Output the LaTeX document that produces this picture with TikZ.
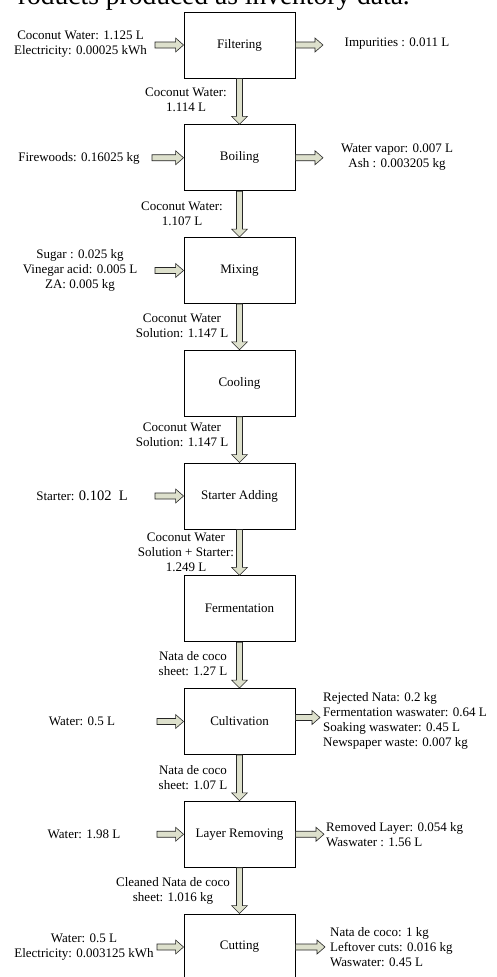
\documentclass[tikz,border=0pt]{standalone}
\usepackage{fontspec}
\setmainfont{Liberation Serif}
\usetikzlibrary{calc}
\definecolor{arrowfill}{HTML}{DDE0CC}
\tikzset{
  procbox/.style={draw=black, line width=0.9pt, minimum width=111pt, minimum height=66pt, inner sep=0pt, font=\fontsize{13}{15}\selectfont},
  lbl/.style={inner sep=0pt, align=center, font=\fontsize{13}{15}\selectfont},
  lbll/.style={inner sep=0pt, align=left, anchor=west, font=\fontsize{13}{15}\selectfont},
  blockarrow/.style={draw=black!85, fill=arrowfill, line width=0.6pt, line join=miter},
}
\newcommand\vflow[2]{\draw[blockarrow] ($(#1.south)+(-3,0)$) -- ($(#2.north)+(-3,-8)$) -- ($(#2.north)+(-8,-8)$) -- (#2.north) -- ($(#2.north)+(8,-8)$) -- ($(#2.north)+(3,-8)$) -- ($(#1.south)+(3,0)$) -- cycle;}
\newcommand\hflow[2]{\draw[blockarrow] ($(#1)+(0,-3)$) -- ($(#2)+(-8,-3)$) -- ($(#2)+(-8,-7)$) -- (#2) -- ($(#2)+(-8,7)$) -- ($(#2)+(-8,3)$) -- ($(#1)+(0,3)$) -- cycle;}
\begin{document}
\begin{tikzpicture}[x=1pt,y=-1pt]
\useasboundingbox[fill=white] (0,0) rectangle (497,977);
\node[anchor=base east, inner sep=0pt, font=\fontsize{27.5}{27.5}\selectfont] (title) at (410,5) {roducts produced as inventory data.};
% process boxes
\node[procbox] (b1) at (239.5,45) {Filtering};
\node[procbox] (b2) at (239.5,157.75) {Boiling};
\node[procbox] (b3) at (239.5,270.5) {Mixing};
\node[procbox] (b4) at (239.5,383.25) {Cooling};
\node[procbox] (b5) at (239.5,496) {Starter Adding};
\node[procbox] (b6) at (239.5,608.75) {Fermentation};
\node[procbox] (b7) at (239.5,721.5) {Cultivation};
\node[procbox] (b8) at (239.5,834.25) {Layer Removing};
\node[procbox] (b9) at (239.5,947) {Cutting};
% vertical flows
\vflow{b1}{b2}
\vflow{b2}{b3}
\vflow{b3}{b4}
\vflow{b4}{b5}
\vflow{b5}{b6}
\vflow{b6}{b7}
\vflow{b7}{b8}
\vflow{b8}{b9}
% flow labels
\node[lbl] (f1) at (186,100) {Coconut Water:\\1.114 L};
\node[lbl] (f2) at (182,214) {Coconut Water:\\1.107 L};
\node[lbl] (f3) at (182,326) {Coconut Water\\Solution: 1.147 L};
\node[lbl] (f4) at (182,434.5) {Coconut Water\\Solution: 1.147 L};
\node[lbl] (f5) at (186,552) {Coconut Water\\Solution + Starter:\\1.249 L};
\node[lbl] (f6) at (193,664) {Nata de coco\\sheet: 1.27 L};
\node[lbl] (f7) at (193,777.5) {Nata de coco\\sheet: 1.07 L};
\node[lbl] (f8) at (173,890.5) {Cleaned Nata de coco\\sheet: 1.016 kg};
% inputs
\node[lbl] (i1) at (80.5,44) {Coconut Water: 1.125 L\\Electricity: 0.00025 kWh};
\node[lbl] (i2) at (79,158) {Firewoods: 0.16025 kg};
\node[lbl] (i3) at (80,270) {Sugar : 0.025 kg\\Vinegar acid: 0.005 L\\ZA: 0.005 kg};
\node[lbl] (i5) at (82,496) {Starter: {\fontsize{14.5}{15}\selectfont 0.102~~L}};
\node[lbl] (i7) at (82,721) {Water: 0.5 L};
\node[lbl] (i8) at (84,834) {Water: 1.98 L};
\node[lbl] (i9) at (84,947) {Water: 0.5 L\\Electricity: 0.003125 kWh};
\coordinate (s1) at (155,45);
\coordinate (s2) at (152,157.75);
\coordinate (s3) at (155,270.5);
\coordinate (s5) at (155,496);
\coordinate (s7) at (157,721.5);
\coordinate (s8) at (157,834.25);
\coordinate (s9) at (157,947);
\hflow{s1}{b1.west}
\hflow{s2}{b2.west}
\hflow{s3}{b3.west}
\hflow{s5}{b5.west}
\hflow{s7}{b7.west}
\hflow{s8}{b8.west}
\hflow{s9}{b9.west}
% outputs
\node[lbl] (o1) at (397,44) {Impurities : 0.011 L};
\node[lbl] (o2) at (397,157.5) {Water vapor: 0.007 L\\Ash : 0.003205 kg};
\node[lbll] (o7) at (323,721) {Rejected Nata: 0.2 kg\\Fermentation waswater: 0.64 L\\Soaking waswater: 0.45 L\\Newspaper waste: 0.007 kg};
\node[lbll] (o8) at (326,834.5) {Removed Layer: 0.054 kg\\Waswater : 1.56 L};
\node[lbll] (o9) at (330,947.5) {Nata de coco: 1 kg\\Leftover cuts: 0.016 kg\\Waswater: 0.45 L};
\coordinate (c7) at ($(b7.east)+(0,-4)$);
\coordinate (e1) at (323,45);
\coordinate (e2) at (323,157.75);
\coordinate (e7) at (320,717.5);
\coordinate (e8) at (324,834.25);
\coordinate (e9) at (325,947);
\hflow{b1.east}{e1}
\hflow{b2.east}{e2}
\hflow{c7}{e7}
\hflow{b8.east}{e8}
\hflow{b9.east}{e9}
\end{tikzpicture}
\end{document}
